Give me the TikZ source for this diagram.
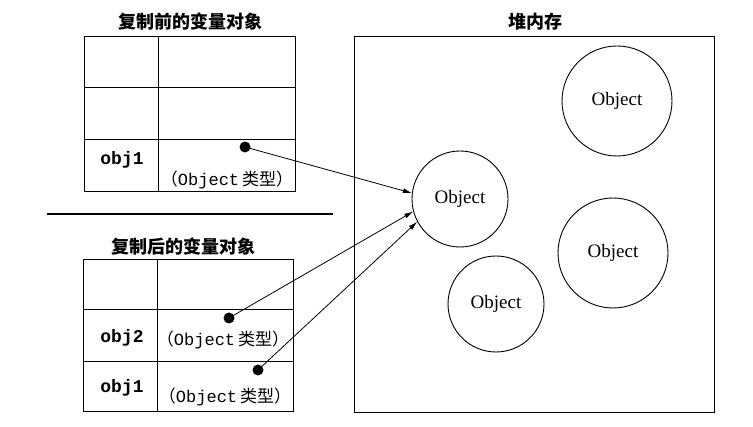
\documentclass[tikz,border=0pt]{standalone}
\usepackage{fontspec}
\setmainfont{Liberation Serif}
\setmonofont{Liberation Mono}
\newfontfamily\cjk{Noto Sans CJK SC}
\usetikzlibrary{arrows.meta,positioning}

\begin{document}
\begin{tikzpicture}[
    x=1pt, y=-1pt,
    cell/.style={draw=black, line width=1pt},
    title/.style={font=\cjk\bfseries\fontsize{18}{20}\selectfont, inner sep=0pt},
    var/.style={font=\ttfamily\bfseries\fontsize{18}{20}\selectfont, inner sep=0pt},
    vtype/.style={font=\fontsize{17}{20}\selectfont, inner sep=0pt},
    heapobj/.style={draw=black, circle, line width=0.9pt, inner sep=0pt, font=\fontsize{19}{22}\selectfont},
    dot/.style={circle, fill=black, inner sep=0pt, minimum size=11pt},
    arr/.style={-{Latex[length=9pt,width=5pt]}, line width=0.8pt},
]
\newcommand{\objtype}{{\cjk （}{\ttfamily Object}\,{\cjk 类型）}}

\useasboundingbox (0,0) rectangle (753,427);

% Before copy
\node[title] (before) at (190,22) {复制前的变量对象};
\draw[cell] (84,37) rectangle (295,192);
\draw[cell] (158,37) -- (158,192);
\foreach \y in {88,140} \draw[cell] (84,\y) -- (295,\y);
\node[var] (bobj1) at (122,160) {obj1};
\node[vtype] (btype1) at (227,180) {\objtype};
\node[dot] (bdot1) at (245,147) {};

% Separator
\draw[line width=1.2pt] (47,214) -- (333,214);

% After copy
\node[title] (after) at (183,247) {复制后的变量对象};
\draw[cell] (83,260) rectangle (293,412);
\draw[cell] (157,260) -- (157,412);
\foreach \y in {310,362} \draw[cell] (83,\y) -- (293,\y);
\node[var] (aobj2) at (122,338) {obj2};
\node[vtype] (atype2) at (223,340) {\objtype};
\node[dot] (adot2) at (229,318) {};
\node[var] (aobj1) at (122,388) {obj1};
\node[vtype] (atype1) at (225,397) {\objtype};
\node[dot] (adot1) at (258,370) {};

% Heap
\node[title] (heap) at (535,22) {堆内存};
\draw[cell] (354,37) rectangle (714,413);
\node[heapobj, minimum size=96pt] (obja) at (460,199) {Object};
\node[heapobj, minimum size=110pt] (objb) at (617,101) {Object};
\node[heapobj, minimum size=110pt] (objc) at (613,253) {Object};
\node[heapobj, minimum size=96pt] (objd) at (496,304) {Object};

% References
\draw[arr] (bdot1.center) -- (obja.173);
\draw[arr] (adot2.center) -- (obja.195);
\draw[arr] (adot1.center) -- (obja.208);

\end{tikzpicture}
\end{document}
